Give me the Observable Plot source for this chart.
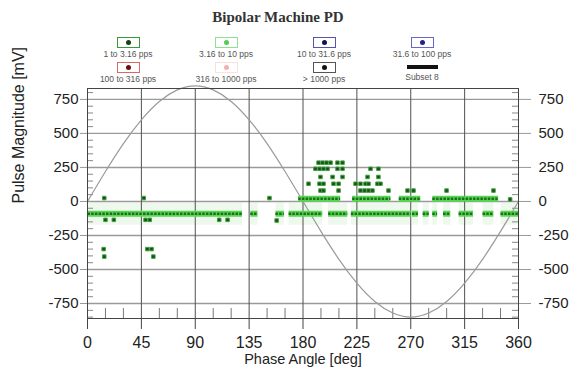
<!DOCTYPE html>
<html>
<head>
<meta charset="utf-8">
<script src="https://cdn.jsdelivr.net/npm/d3@7"></script>
<script src="https://cdn.jsdelivr.net/npm/@observablehq/plot@0.6"></script>
<style>
  html, body { margin: 0; padding: 0; background: #fff; }
  #wrap { position: relative; width: 574px; height: 368px; overflow: hidden; font-family: "Liberation Sans", Arial, sans-serif; }
  #wrap svg { position: absolute; left: 0; top: 0; }
  #title { position: absolute; left: 0; width: 556px; top: 9px; text-align: center; font-family: "Liberation Serif", "DejaVu Serif", serif; font-weight: bold; font-size: 15px; color: #333; z-index: 2; }
  .item { position: absolute; width: 110px; margin-left: -55px; text-align: center; z-index: 2; }
  .box { width: 21px; height: 9px; margin: 0 auto; border: 1px solid; position: relative; background: #fff; }
  .box .dot { position: absolute; left: 8px; top: 2px; width: 5px; height: 5px; border-radius: 50%; }
  .lbl { font-size: 8.5px; color: #555; line-height: 10px; margin-top: 1px; white-space: nowrap; }
  .bar { width: 31px; height: 4px; background: #111; margin: 3px auto 3px auto; }
</style>
</head>
<body>
<div id="wrap">
  <div id="title">Bipolar Machine PD</div>
  <div id="legend"></div>
</div>
<script>
// ---- data ----
const xTicks = [0, 45, 90, 135, 180, 225, 270, 315, 360];
const xGrid = [45, 90, 135, 180, 225, 270, 315];
const xMinor = [15, 30, 60, 75, 105, 120, 150, 165, 195, 210, 240, 255, 285, 300, 330, 345];
const yTicks = [-750, -500, -250, 0, 250, 500, 750];
const yMinor = [-850, -800, -700, -650, -600, -550, -450, -400, -350, -300, -200, -150, -100, -50, 50, 100, 150, 200, 300, 350, 400, 450, 550, 600, 650, 700, 800];

// reference sine (read at 15 deg steps)
const sinePhase = [0, 15, 30, 45, 60, 75, 90, 105, 120, 135, 150, 165, 180, 195, 210, 225, 240, 255, 270, 285, 300, 315, 330, 345, 360];
const sineMv    = [0, 220, 425, 600, 735, 820, 850, 820, 735, 600, 425, 220, 0, -220, -425, -600, -735, -820, -850, -820, -735, -600, -425, -220, 0];

// dense runs of "3.16 to 10 pps" pulses: [from deg, to deg, mV]
const bandFrom = [0, 136, 157, 168, 201, 220, 271, 280, 288, 297, 310, 330, 345, 176, 221, 260, 288];
const bandTo   = [129, 142, 164, 196, 217, 270, 276, 285, 292, 303, 322, 339, 360, 211, 253, 278, 343];
const bandMv   = [-90, -90, -90, -90, -90, -90, -90, -90, -90, -90, -90, -90, -90, 20, 20, 20, 20];

// individual "1 to 3.16 pps" pulses
const ptPhase = [14, 47, 152,
  15, 22, 48.5, 52, 110, 117, 158,
  13.5, 14, 50, 53.5, 55,
  193, 196.3, 199.6, 203, 208.8, 213,
  190.4, 193.8, 197.1, 200.5, 208.8, 213, 236.4, 243,
  194.6, 204.7, 213, 233.9, 243,
  184.6, 193.8, 197.1, 205.5, 209.7, 223.9, 228, 232.2, 234.7, 242.2, 244.7,
  194.6, 197.1, 209.7, 228, 231.4, 234.7, 238, 251.4, 267.3, 272.3, 299.9, 339.1,
  353];
const ptMv = [25, 25, 25,
  -135, -135, -135, -135, -135, -135, -140,
  -350, -405, -350, -350, -405,
  285, 285, 285, 285, 285, 285,
  240, 240, 240, 240, 240, 240, 240, 240,
  180, 180, 180, 180, 180,
  130, 130, 130, 130, 130, 130, 130, 130, 130, 130, 130,
  80, 80, 80, 80, 80, 80, 80, 80, 80, 80, 80, 80,
  15];

const legendLabels = ["1 to 3.16 pps", "3.16 to 10 pps", "10 to 31.6 pps", "31.6 to 100 pps",
                      "100 to 316 pps", "316 to 1000 pps", "> 1000 pps", "Subset 8"];
const legendBorder = ["#3a9a3a", "#8fe08f", "#5555aa", "#6666cc", "#dd6666", "#fbe0e0", "#555555", null];
const legendDot    = ["#114411", "#55cc55", "#111155", "#222288", "#661111", "#f3b0b0", "#111111", null];

// ---- build tables ----
const sine = sinePhase.map((p, i) => ({phase: p, mv: sineMv[i]}));
const bands = bandFrom.map((f, i) => ({from: f, to: bandTo[i], mv: bandMv[i]}));
const pts = ptPhase.map((p, i) => ({phase: p, mv: ptMv[i]}));
const fmt = d => String(d);

const W = 574, H = 368, mL = 87, mR = 56, mT = 88, mB = 50;
const fw = W - mL - mR, fh = H - mT - mB;

const chart = Plot.plot({
  width: W, height: H,
  marginLeft: mL, marginRight: mR, marginTop: mT, marginBottom: mB,
  x: {domain: [0, 360]},
  y: {domain: [-860, 830]},
  style: {fontFamily: "'Liberation Sans', Arial, sans-serif", color: "#222", background: "transparent", overflow: "visible"},
  marks: [
    Plot.link(bands.filter(d => d.mv < 0), {x1: "from", x2: "to", y1: "mv", y2: "mv", stroke: "#eef8ec", strokeWidth: 22, strokeLinecap: "butt"}),
    Plot.gridY(yTicks, {stroke: "#9a9a9a", strokeOpacity: 1, strokeWidth: 1.4}),
    Plot.gridX(xGrid, {stroke: "#505050", strokeOpacity: 1, strokeWidth: 1}),
    Plot.tickX(xMinor, {x: d => d, stroke: "#777", insetTop: fh - 10}),
    Plot.tickY(yMinor, {y: d => d, stroke: "#888", insetRight: fw - 6}),
    Plot.tickY(yMinor, {y: d => d, stroke: "#888", insetLeft: fw - 6}),
    Plot.line(sine, {x: "phase", y: "mv", stroke: "#9a9a9a", strokeWidth: 1.2, curve: "natural"}),
    Plot.link(bands, {x1: "from", x2: "to", y1: "mv", y2: "mv", stroke: "#55d850", strokeWidth: 6, strokeLinecap: "butt"}),
    Plot.link(bands, {x1: "from", x2: "to", y1: "mv", y2: "mv", stroke: "#226a22", strokeWidth: 2.4, strokeDasharray: "2.5,1.2", strokeLinecap: "butt"}),
    Plot.dot(pts, {x: "phase", y: "mv", r: 2, symbol: "square", fill: "#1a4a1a", stroke: "#3fa53f", strokeWidth: 1}),
    Plot.frame({stroke: "#444"}),
    Plot.axisX(xTicks, {tickSize: 11, tickPadding: 7, fontSize: 16, label: null, stroke: "#444"}),
    Plot.axisY(yTicks, {anchor: "left", tickSize: 7, tickPadding: 2, fontSize: 15, tickFormat: fmt, label: null, stroke: "#999"}),
    Plot.axisY(yTicks, {anchor: "right", tickSize: 12, tickPadding: 8, fontSize: 15, tickFormat: fmt, label: null, stroke: "#999"}),
    Plot.text(["Pulse Magnitude [mV]"], {frameAnchor: "left", dx: -69, rotate: -90, fontSize: 16, fill: "#222"}),
    Plot.text(["Phase Angle [deg]"], {frameAnchor: "bottom", dy: 35, fontSize: 14.5, fill: "#222", lineAnchor: "top"})
  ]
});
document.getElementById("wrap").appendChild(chart);

// ---- legend ----
const centers = [128, 226, 324, 422];
const legend = document.getElementById("legend");
legendLabels.forEach((lab, i) => {
  const row = Math.floor(i / 4), col = i % 4;
  const it = document.createElement("div");
  it.className = "item";
  it.style.left = centers[col] + "px";
  it.style.top = (row === 0 ? 37 : 62) + "px";
  if (legendBorder[i]) {
    const b = document.createElement("div");
    b.className = "box";
    b.style.borderColor = legendBorder[i];
    const d = document.createElement("div");
    d.className = "dot";
    d.style.background = legendDot[i];
    b.appendChild(d);
    it.appendChild(b);
  } else {
    const b = document.createElement("div");
    b.className = "bar";
    it.appendChild(b);
  }
  const l = document.createElement("div");
  l.className = "lbl";
  l.textContent = lab;
  it.appendChild(l);
  legend.appendChild(it);
});
</script>
</body>
</html>
